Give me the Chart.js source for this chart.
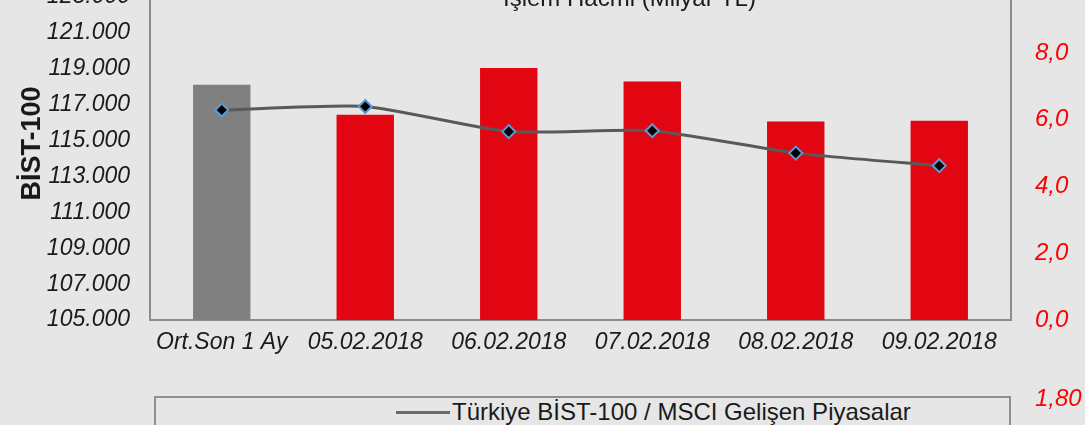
<!DOCTYPE html>
<html>
<head>
<meta charset="utf-8">
<script src="https://cdn.jsdelivr.net/npm/chart.js@4.4.1/dist/chart.umd.min.js"></script>
<style>
  html, body { margin:0; padding:0; width:1085px; height:425px; overflow:hidden; background:#e6e6e6; position:relative;
    font-family:"Liberation Sans", Arial, sans-serif; }
  #wrap { position:absolute; left:0; top:-50px; width:1085px; height:440px; }
  .topLegend { position:absolute; left:483px; top:-14px; font-size:24px; line-height:24px; color:#1a1a1a; white-space:nowrap; }
  .topLegend i { display:inline-block; width:12px; height:12px; background:#e20613; margin-right:8px; vertical-align:8px; }
  #box2 { position:absolute; left:154px; top:396px; width:853px; height:60px; border:2px solid #8f8f8f; }
  .lg2 { position:absolute; left:396px; top:400px; font-size:24px; line-height:24px; color:#1a1a1a; white-space:nowrap; }
  .lg2 i { display:inline-block; width:54px; height:3px; background:#6a6a6a; vertical-align:6px; margin-right:2px; }
  .tick2 { position:absolute; left:1035px; top:386px; font-size:24px; line-height:24px; color:#ff0000; font-style:italic; }
</style>
</head>
<body>
<div id="wrap"><canvas id="c" width="1085" height="440"></canvas></div>
<div class="topLegend"><i></i>İşlem Hacmi (Milyar TL)</div>
<div id="box2"></div>
<div class="lg2"><i></i>Türkiye BİST-100 / MSCI Gelişen Piyasalar</div>
<div class="tick2">1,80</div>
<script>
// data
const categories = ['Ort.Son 1 Ay', '05.02.2018', '06.02.2018', '07.02.2018', '08.02.2018', '09.02.2018'];
const bist100 = [116700, 116900, 115500, 115550, 114300, 113600];
const volume = [7.05, 6.15, 7.55, 7.15, 5.95, 5.97];
const barColors = ['#808080', '#e20613', '#e20613', '#e20613', '#e20613', '#e20613'];
const leftTicks = [105000, 107000, 109000, 111000, 113000, 115000, 117000, 119000, 121000, 123000];
const rightTicks = [0, 2, 4, 6, 8];

const FONT = '"Liberation Sans", Arial, sans-serif';
const fmtDot = v => String(Math.round(v)).replace(/\B(?=(\d{3})+(?!\d))/g, '.');
const fmtComma = v => v.toFixed(1).replace('.', ',');

const ctx = document.getElementById('c').getContext('2d');
new Chart(ctx, {
  data: {
    labels: categories,
    datasets: [
      {
        type: 'line',
        label: 'BİST-100',
        data: bist100,
        yAxisID: 'y',
        order: 0,
        borderColor: '#595959',
        borderWidth: 3,
        tension: 0.2,
        pointStyle: 'rectRot',
        pointRadius: 6.5,
        pointBackgroundColor: '#000000',
        pointBorderColor: '#5b9bd5',
        pointBorderWidth: 2
      },
      {
        type: 'bar',
        label: 'İşlem Hacmi (Milyar TL)',
        data: volume,
        yAxisID: 'y1',
        order: 1,
        backgroundColor: barColors,
        barPercentage: 0.4,
        categoryPercentage: 1
      }
    ]
  },
  options: {
    responsive: false,
    devicePixelRatio: 1,
    animation: false,
    layout: { padding: { top: 47, left: 0, right: 0, bottom: 0 } },
    plugins: { legend: { display: false }, tooltip: { enabled: false } },
    scales: {
      x: {
        grid: { display: false },
        border: { display: true, color: '#8c8c8c', width: 2 },
        ticks: { font: { family: FONT, size: 23, style: 'italic' }, color: '#1a1a1a', padding: 1, maxRotation: 0, autoSkip: false },
        afterFit(s) { s.height = 70; }
      },
      y: {
        position: 'left',
        min: 105000,
        max: 123000,
        grid: { display: false },
        border: { display: true, color: '#8c8c8c', width: 2 },
        ticks: { font: { family: FONT, size: 23, style: 'italic' }, color: '#1a1a1a', padding: 12, callback: v => fmtDot(v) },
        title: { display: true, text: '    BİST-100', color: '#1a1a1a', font: { family: FONT, size: 27, weight: 'bold' }, padding: { top: 16, bottom: 0 } },
        afterBuildTicks(s) { s.ticks = leftTicks.map(v => ({ value: v })); },
        afterFit(s) { s.width = 150; }
      },
      y1: {
        position: 'right',
        min: 0,
        max: 9.68,
        grid: { display: false },
        border: { display: true, color: '#8c8c8c', width: 2 },
        ticks: { font: { family: FONT, size: 24, style: 'italic' }, color: '#ff0000', padding: 16, callback: v => fmtComma(v) },
        afterBuildTicks(s) { s.ticks = rightTicks.map(v => ({ value: v })); },
        afterFit(s) { s.width = 74; }
      }
    }
  }
});
</script>
</body>
</html>
